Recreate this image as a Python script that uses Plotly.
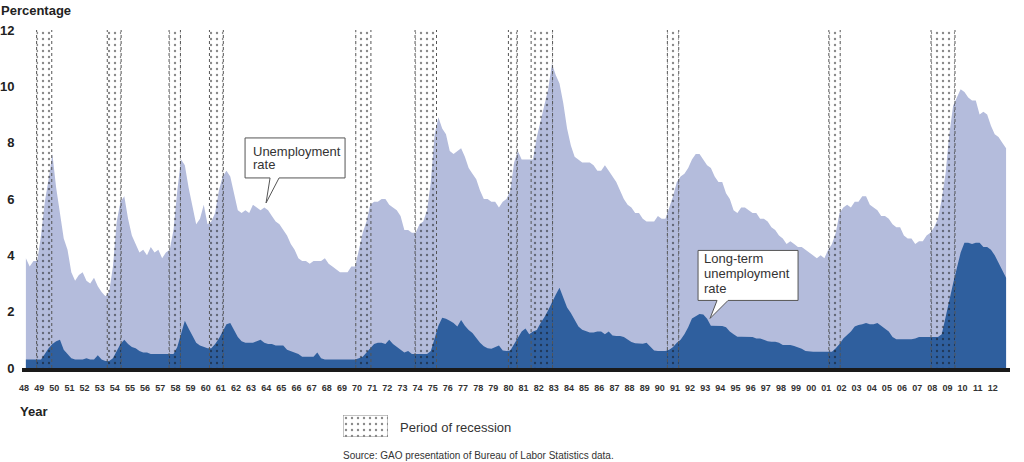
import plotly.graph_objects as go

# ---------------- data (quarterly readings, 1948-2012) ----------------
YEARS = list(range(1948, 2013))
QUARTERS = [1, 2, 3, 4]

unemployment_rate = [
    3.9, 3.6, 3.8, 3.8,   # 1948
    4.7, 5.9, 6.7, 7.6,   # 1949
    6.4, 5.5, 4.6, 4.2,   # 1950
    3.4, 3.1, 3.3, 3.4,   # 1951
    3.1, 3.0, 3.2, 2.9,   # 1952
    2.7, 2.55, 2.7, 3.6,  # 1953
    5.2, 5.9, 6.1, 5.3,   # 1954
    4.7, 4.4, 4.1, 4.2,   # 1955
    4.0, 4.3, 4.1, 4.2,   # 1956
    3.9, 4.1, 4.2, 4.9,   # 1957
    6.3, 7.4, 7.2, 6.4,   # 1958
    5.8, 5.1, 5.3, 5.8,   # 1959
    5.1, 5.2, 5.5, 6.3,   # 1960
    6.8, 7.0, 6.8, 6.2,   # 1961
    5.6, 5.5, 5.6, 5.5,   # 1962
    5.8, 5.7, 5.6, 5.7,   # 1963
    5.6, 5.4, 5.2, 5.1,   # 1964
    4.9, 4.7, 4.4, 4.2,   # 1965
    3.9, 3.8, 3.8, 3.7,   # 1966
    3.8, 3.8, 3.8, 3.9,   # 1967
    3.7, 3.6, 3.5, 3.4,   # 1968
    3.4, 3.4, 3.6, 3.6,   # 1969
    4.2, 4.8, 5.2, 5.8,   # 1970
    5.9, 5.9, 6.0, 6.0,   # 1971
    5.8, 5.7, 5.6, 5.4,   # 1972
    4.9, 4.9, 4.8, 4.8,   # 1973
    5.1, 5.2, 5.6, 6.6,   # 1974
    8.3, 8.9, 8.5, 8.3,   # 1975
    7.7, 7.6, 7.7, 7.8,   # 1976
    7.5, 7.1, 6.9, 6.7,   # 1977
    6.3, 6.0, 6.0, 5.9,   # 1978
    5.9, 5.7, 5.9, 6.0,   # 1979
    6.3, 7.3, 7.7, 7.4,   # 1980
    7.4, 7.4, 7.4, 8.2,   # 1981
    8.8, 9.4, 9.9, 10.8,  # 1982
    10.4, 10.1, 9.4, 8.5, # 1983
    7.9, 7.5, 7.4, 7.3,   # 1984
    7.3, 7.3, 7.2, 7.0,   # 1985
    7.0, 7.2, 7.0, 6.8,   # 1986
    6.6, 6.3, 6.0, 5.8,   # 1987
    5.7, 5.5, 5.5, 5.3,   # 1988
    5.2, 5.2, 5.2, 5.4,   # 1989
    5.3, 5.3, 5.7, 6.1,   # 1990
    6.6, 6.8, 6.9, 7.1,   # 1991
    7.4, 7.6, 7.6, 7.4,   # 1992
    7.2, 7.1, 6.8, 6.6,   # 1993
    6.6, 6.2, 6.0, 5.6,   # 1994
    5.5, 5.7, 5.7, 5.6,   # 1995
    5.5, 5.5, 5.3, 5.3,   # 1996
    5.2, 5.0, 4.9, 4.7,   # 1997
    4.6, 4.4, 4.5, 4.4,   # 1998
    4.3, 4.3, 4.2, 4.1,   # 1999
    4.0, 3.9, 4.0, 3.9,   # 2000
    4.2, 4.4, 4.8, 5.5,   # 2001
    5.7, 5.8, 5.7, 5.9,   # 2002
    5.9, 6.1, 6.1, 5.8,   # 2003
    5.7, 5.6, 5.4, 5.4,   # 2004
    5.3, 5.1, 5.0, 5.0,   # 2005
    4.7, 4.6, 4.6, 4.4,   # 2006
    4.5, 4.5, 4.7, 4.8,   # 2007
    5.0, 5.3, 6.0, 6.9,   # 2008
    8.3, 9.3, 9.6, 9.9,   # 2009
    9.8, 9.6, 9.5, 9.5,   # 2010
    9.0, 9.1, 9.0, 8.6,   # 2011
    8.3, 8.2, 8.0, 7.8,   # 2012
]

long_term_rate = [
    0.3, 0.3, 0.3, 0.3,      # 1948
    0.3, 0.5, 0.7, 0.85,     # 1949
    0.95, 1.0, 0.65, 0.5,    # 1950
    0.35, 0.3, 0.3, 0.3,     # 1951
    0.35, 0.3, 0.3, 0.45,    # 1952
    0.3, 0.25, 0.25, 0.35,   # 1953
    0.6, 0.85, 1.0, 0.85,    # 1954
    0.75, 0.7, 0.6, 0.55,    # 1955
    0.55, 0.5, 0.5, 0.5,     # 1956
    0.5, 0.5, 0.5, 0.5,      # 1957
    0.75, 1.25, 1.68, 1.4,   # 1958
    1.15, 0.9, 0.8, 0.75,    # 1959
    0.7, 0.7, 0.85, 1.05,    # 1960
    1.3, 1.55, 1.6, 1.35,    # 1961
    1.1, 0.95, 0.9, 0.9,     # 1962
    0.9, 0.95, 1.0, 0.9,     # 1963
    0.85, 0.85, 0.8, 0.8,    # 1964
    0.8, 0.65, 0.6, 0.55,    # 1965
    0.5, 0.4, 0.4, 0.4,      # 1966
    0.4, 0.55, 0.35, 0.3,    # 1967
    0.3, 0.3, 0.3, 0.3,      # 1968
    0.3, 0.3, 0.3, 0.3,      # 1969
    0.35, 0.4, 0.55, 0.7,    # 1970
    0.85, 0.9, 0.9, 0.85,    # 1971
    1.0, 0.85, 0.75, 0.65,   # 1972
    0.55, 0.6, 0.5, 0.5,     # 1973
    0.5, 0.5, 0.5, 0.6,      # 1974
    1.1, 1.5, 1.78, 1.75,    # 1975
    1.68, 1.6, 1.47, 1.7,    # 1976
    1.5, 1.35, 1.24, 1.05,   # 1977
    0.9, 0.77, 0.7, 0.68,    # 1978
    0.75, 0.8, 0.62, 0.6,    # 1979
    0.62, 0.85, 1.05, 1.3,   # 1980
    1.4, 1.2, 1.3, 1.35,     # 1981
    1.6, 1.8, 2.05, 2.35,    # 1982
    2.6, 2.85, 2.5, 2.15,    # 1983
    1.95, 1.7, 1.47, 1.36,   # 1984
    1.3, 1.26, 1.26, 1.3,    # 1985
    1.3, 1.2, 1.3, 1.15,     # 1986
    1.14, 1.14, 1.1, 1.0,    # 1987
    0.92, 0.88, 0.86, 0.86,  # 1988
    0.9, 0.75, 0.62, 0.6,    # 1989
    0.6, 0.6, 0.65, 0.75,    # 1990
    0.9, 1.0, 1.2, 1.45,     # 1991
    1.76, 1.85, 1.92, 1.9,   # 1992
    1.75, 1.5, 1.5, 1.49,    # 1993
    1.49, 1.45, 1.3, 1.2,    # 1994
    1.11, 1.11, 1.11, 1.11,  # 1995
    1.1, 1.05, 1.05, 1.0,    # 1996
    0.95, 0.93, 0.93, 0.9,   # 1997
    0.82, 0.82, 0.82, 0.78,  # 1998
    0.73, 0.68, 0.6, 0.58,   # 1999
    0.58, 0.58, 0.58, 0.58,  # 2000
    0.58, 0.58, 0.7, 0.85,   # 2001
    1.05, 1.17, 1.3, 1.47,   # 2002
    1.53, 1.55, 1.6, 1.55,   # 2003
    1.55, 1.6, 1.5, 1.4,     # 2004
    1.3, 1.1, 1.02, 1.02,    # 2005
    1.02, 1.02, 1.02, 1.05,  # 2006
    1.1, 1.1, 1.1, 1.1,      # 2007
    1.1, 1.1, 1.2, 1.75,     # 2008
    2.4, 3.0, 3.6, 4.1,      # 2009
    4.45, 4.45, 4.4, 4.45,   # 2010
    4.45, 4.3, 4.3, 4.2,     # 2011
    4.0, 3.75, 3.5, 3.2,     # 2012
]

# recession periods: (start year, start month, end year, end month)
recession_starts = [(1948, 11), (1953, 7), (1957, 8), (1960, 4), (1969, 12), (1973, 11),
                    (1980, 1), (1981, 7), (1990, 7), (2001, 3), (2007, 12)]
recession_ends = [(1949, 10), (1954, 5), (1958, 4), (1961, 2), (1970, 11), (1975, 3),
                  (1980, 7), (1982, 11), (1991, 3), (2001, 11), (2009, 6)]

year_tick_labels = [f"{y % 100:02d}" for y in YEARS]
y_ticks = [0, 2, 4, 6, 8, 10, 12]

# ---------------- layout geometry ----------------
W, H = 1024, 462
PX_L, PX_R = 22, 1009.5          # plot area in pixels
PX_TOP, PX_BOT = 30, 368
PX_PER_YEAR = 15.138
X0 = 1948 - (24 - PX_L) / PX_PER_YEAR
X1 = X0 + (PX_R - PX_L) / PX_PER_YEAR
Y_TOP = 12

LIGHT = "#b4bcdc"
DARK = "#2f5f9e"
FONT = "Liberation Sans"

x_q = [y + (q - 0.5) / 4 for y in YEARS for q in QUARTERS]

fig = go.Figure()

fig.add_trace(go.Scatter(
    x=x_q, y=unemployment_rate, mode="lines", fill="tozeroy",
    fillcolor=LIGHT, line=dict(width=0, color=LIGHT), hoverinfo="skip", showlegend=False))
fig.add_trace(go.Scatter(
    x=x_q, y=long_term_rate, mode="lines", fill="tozeroy",
    fillcolor=DARK, line=dict(width=0, color=DARK), hoverinfo="skip", showlegend=False))

# recession bands
rx, ry, ex, ey_ = [], [], [], []
for (sy, sm), (ey, em) in zip(recession_starts, recession_ends):
    s = sy + (sm - 1) / 12
    e = ey + em / 12
    rx += [s, s, e, e, s, None]
    ry += [0, Y_TOP, Y_TOP, 0, 0, None]
    ex += [s, s, None, e, e, None]
    ey_ += [0, Y_TOP, None, 0, Y_TOP, None]

pattern = dict(shape=".", fgcolor="#111111", bgcolor="rgba(0,0,0,0)", size=6, solidity=0.12)
fig.add_trace(go.Scatter(
    x=rx, y=ry, mode="lines", fill="toself", fillcolor="rgba(0,0,0,0)",
    fillpattern=pattern, line=dict(width=0, color="rgba(0,0,0,0)"),
    hoverinfo="skip", showlegend=False, connectgaps=False))
fig.add_trace(go.Scatter(
    x=ex, y=ey_, mode="lines", line=dict(color="#555555", width=1, dash="dot"),
    hoverinfo="skip", showlegend=False, connectgaps=False))

# legend swatch on its own small axes
sw = [0, 1]
fig.add_trace(go.Scatter(
    x=[sw[0], sw[1], sw[1], sw[0], sw[0]], y=[sw[0], sw[0], sw[1], sw[1], sw[0]],
    mode="lines", fill="toself", fillcolor="rgba(0,0,0,0)", fillpattern=pattern,
    line=dict(color="#888888", width=1), xaxis="x2", yaxis="y2",
    hoverinfo="skip", showlegend=False, cliponaxis=False))

fig.update_layout(
    width=W, height=H,
    margin=dict(l=0, r=0, t=0, b=0, pad=0, autoexpand=False),
    paper_bgcolor="white", plot_bgcolor="white",
    font=dict(family=FONT, color="#222"),
    xaxis=dict(
        domain=[PX_L / W, PX_R / W], range=[X0, X1], automargin=False,
        tickvals=YEARS, ticktext=year_tick_labels, tickangle=0,
        tickfont=dict(family=FONT, size=9, color="#333", weight="bold"),
        ticks="outside", ticklen=8, tickcolor="rgba(0,0,0,0)",
        showgrid=False, zeroline=False,
        showline=True, linecolor="#1a1a1a", linewidth=4,
    ),
    yaxis=dict(
        domain=[1 - PX_BOT / H, 1 - PX_TOP / H], range=[0, Y_TOP], automargin=False,
        tickvals=y_ticks, ticktext=[str(v) for v in y_ticks],
        tickfont=dict(family=FONT, size=13, color="#222", weight="bold"),
        ticks="outside", ticklen=4, tickcolor="rgba(0,0,0,0)",
        showgrid=False, zeroline=False, showline=False,
    ),
    xaxis2=dict(domain=[343 / W, 388 / W], range=[0, 1], visible=False, anchor="y2",
                automargin=False),
    yaxis2=dict(domain=[1 - 437 / H, 1 - 415 / H], range=[0, 1], visible=False, anchor="x2",
                automargin=False),
)

# text annotations
def paper_text(txt, px, py, size, bold=False, color="#222", xanchor="left"):
    fig.add_annotation(
        text=txt, x=px / W, y=1 - py / H, xref="paper", yref="paper",
        xanchor=xanchor, yanchor="middle", showarrow=False,
        font=dict(family=FONT, size=size, color=color, weight="bold" if bold else "normal"))

paper_text("Percentage", -1, 10, 13, bold=True)
paper_text("Year", 18, 411, 13, bold=True)
paper_text("Period of recession", 398, 427, 13, color="#333")
paper_text("Source: GAO presentation of Bureau of Labor Statistics data.", 341, 455, 10, color="#333")

# callouts (speech bubbles anchored at data points)
def callout(ax, ay, box_l, box_r, box_b, box_t, base_l, base_r, lines, text_dx, line_dys):
    path = (f"M0,0 L{base_l},{box_b} L{box_l},{box_b} L{box_l},{box_t} "
            f"L{box_r},{box_t} L{box_r},{box_b} L{base_r},{box_b} Z")
    fig.add_shape(type="path", path=path, xref="x", yref="y",
                  xsizemode="pixel", ysizemode="pixel", xanchor=ax, yanchor=ay,
                  fillcolor="white", line=dict(color="#555555", width=1), layer="above")
    for txt, dy in zip(lines, line_dys):
        fig.add_annotation(text=txt, x=ax, y=ay, xref="x", yref="y",
                           xanchor="left", yanchor="middle", xshift=text_dx, yshift=dy,
                           showarrow=False, font=dict(family=FONT, size=13, color="#333"))

callout(1963.99, 5.86, -21, 79, 25, 65, 4, 13, ["Unemployment", "rate"], -15, [51.5, 38.5])
callout(1993.32, 1.76, -12, 88, 18, 68, 7, 18, ["Long-term", "unemployment", "rate"], -8,
        [59.5, 44.5, 29.5])

fig.write_html(
    "out.html",
    config={"displayModeBar": False},
    post_script="document.body.style.margin='0';document.body.style.padding='0';"
                "document.body.style.overflow='hidden';",
)
